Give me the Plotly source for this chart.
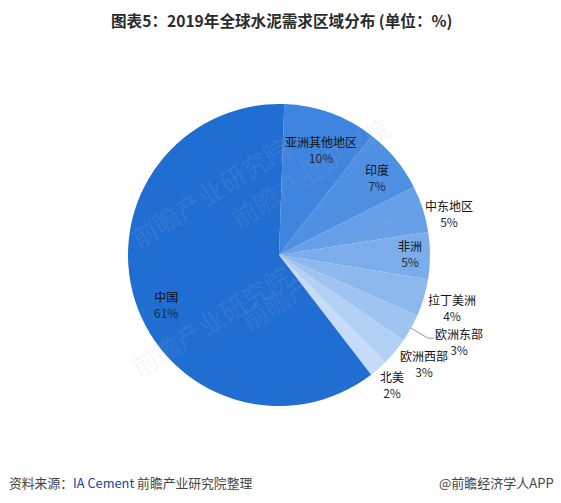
import math
import plotly.graph_objects as go

# ---- data ----
regions = ["亚洲其他地区", "印度", "中东地区", "非洲", "拉丁美洲", "欧洲东部", "欧洲西部", "北美", "中国"]
shares = [10, 7, 5, 5, 4, 3, 3, 2, 61]

# ---- style ----
colors = ["#3F84DF", "#5090E3", "#67A0E8", "#7BADEC", "#8DB8EE", "#A0C4F1", "#B2CFF4", "#C5DBF7", "#206ED2"]
label_r = [0.75, 0.83, 1.16, 0.87, 1.20, 1.25, 1.20, 1.14, 0.82]   # radius factor
label_da = [2.0, 1.0, 4.0, -1.0, 0.5, 0, -3.0, 0.0, -6.0]           # angle tweak (deg)

W, H = 561, 503
CX, CY, R = 279, 255, 151
ROT = 2.0
FONT = "Noto Sans CJK SC"

fig = go.Figure(go.Pie(
    labels=regions, values=shares, sort=False, direction="clockwise",
    rotation=ROT, marker=dict(colors=colors, line=dict(width=0)),
    textinfo="none", hoverinfo="label+percent", showlegend=False,
    domain=dict(x=[(CX - R) / W, (CX + R) / W], y=[1 - (CY + R) / H, 1 - (CY - R) / H]),
))

def px2paper(x, y):
    return x / W, 1 - y / H

total = sum(shares)
cum = 0
annotations = []
shapes = []
for i, (name, v) in enumerate(zip(regions, shares)):
    mid = ROT + (cum + v / 2) / total * 360
    cum += v
    if name == "欧洲东部":
        a = math.radians(mid)
        ex, ey = CX + R * math.sin(a), CY - R * math.cos(a)
        kx, ky = ex + 17, ey + 10
        tx = kx + 6
        for (x0, y0, x1, y1) in [(ex, ey, kx, ky), (kx, ky, tx, ky)]:
            p0 = px2paper(x0, y0); p1 = px2paper(x1, y1)
            shapes.append(dict(type="line", xref="paper", yref="paper",
                               x0=p0[0], y0=p0[1], x1=p1[0], y1=p1[1],
                               line=dict(color="#999999", width=1)))
        px, py = px2paper(tx + 25, ky + 3)
    else:
        a = math.radians(mid + label_da[i])
        rr = R * label_r[i]
        px, py = px2paper(CX + rr * math.sin(a), CY - rr * math.cos(a))
    annotations.append(dict(
        x=px, y=py, xref="paper", yref="paper", showarrow=False,
        text=f"{name}<br><span style='color:#1e2a3a'>{v}%</span>",
        font=dict(family=FONT, size=12, color="#111111"), align="center",
        xanchor="center", yanchor="middle"))

# watermarks
for (wx, wy) in [(120, 125), (400, 105), (120, 320), (410, 340)]:
    px, py = px2paper(wx, wy)
    annotations.append(dict(x=px, y=py, xref="paper", yref="paper", showarrow=False,
                            text="前瞻产业研究院", textangle=-32,
                            font=dict(family=FONT, size=26, color="rgba(180,185,195,0.13)")))

# title
annotations.append(dict(x=281 / W, y=1 - 20 / H, xref="paper", yref="paper", showarrow=False,
                        text="<b>图表5：2019年全球水泥需求区域分布 (单位：%)</b>",
                        font=dict(family=FONT, size=15.6, color="#2b2b2b"),
                        xanchor="center", yanchor="middle"))
# footer
annotations.append(dict(x=7 / W, y=1 - 482 / H, xref="paper", yref="paper", showarrow=False,
                        text="资料来源：<span style='color:#1c3f94'>IA Cement</span> 前瞻产业研究院整理",
                        font=dict(family=FONT, size=12.8, color="#444444"),
                        xanchor="left", yanchor="middle"))
annotations.append(dict(x=556 / W, y=1 - 482 / H, xref="paper", yref="paper", showarrow=False,
                        text="@前瞻经济学人APP",
                        font=dict(family=FONT, size=13, color="#444444"),
                        xanchor="right", yanchor="middle"))

fig.update_layout(width=W, height=H, autosize=False,
                  margin=dict(l=0, r=0, t=0, b=0),
                  paper_bgcolor="white", plot_bgcolor="white",
                  annotations=annotations, shapes=shapes)
fig.write_html("out.html", config={"displayModeBar": False},
               post_script="document.body.style.margin='0';document.body.style.padding='0';")
